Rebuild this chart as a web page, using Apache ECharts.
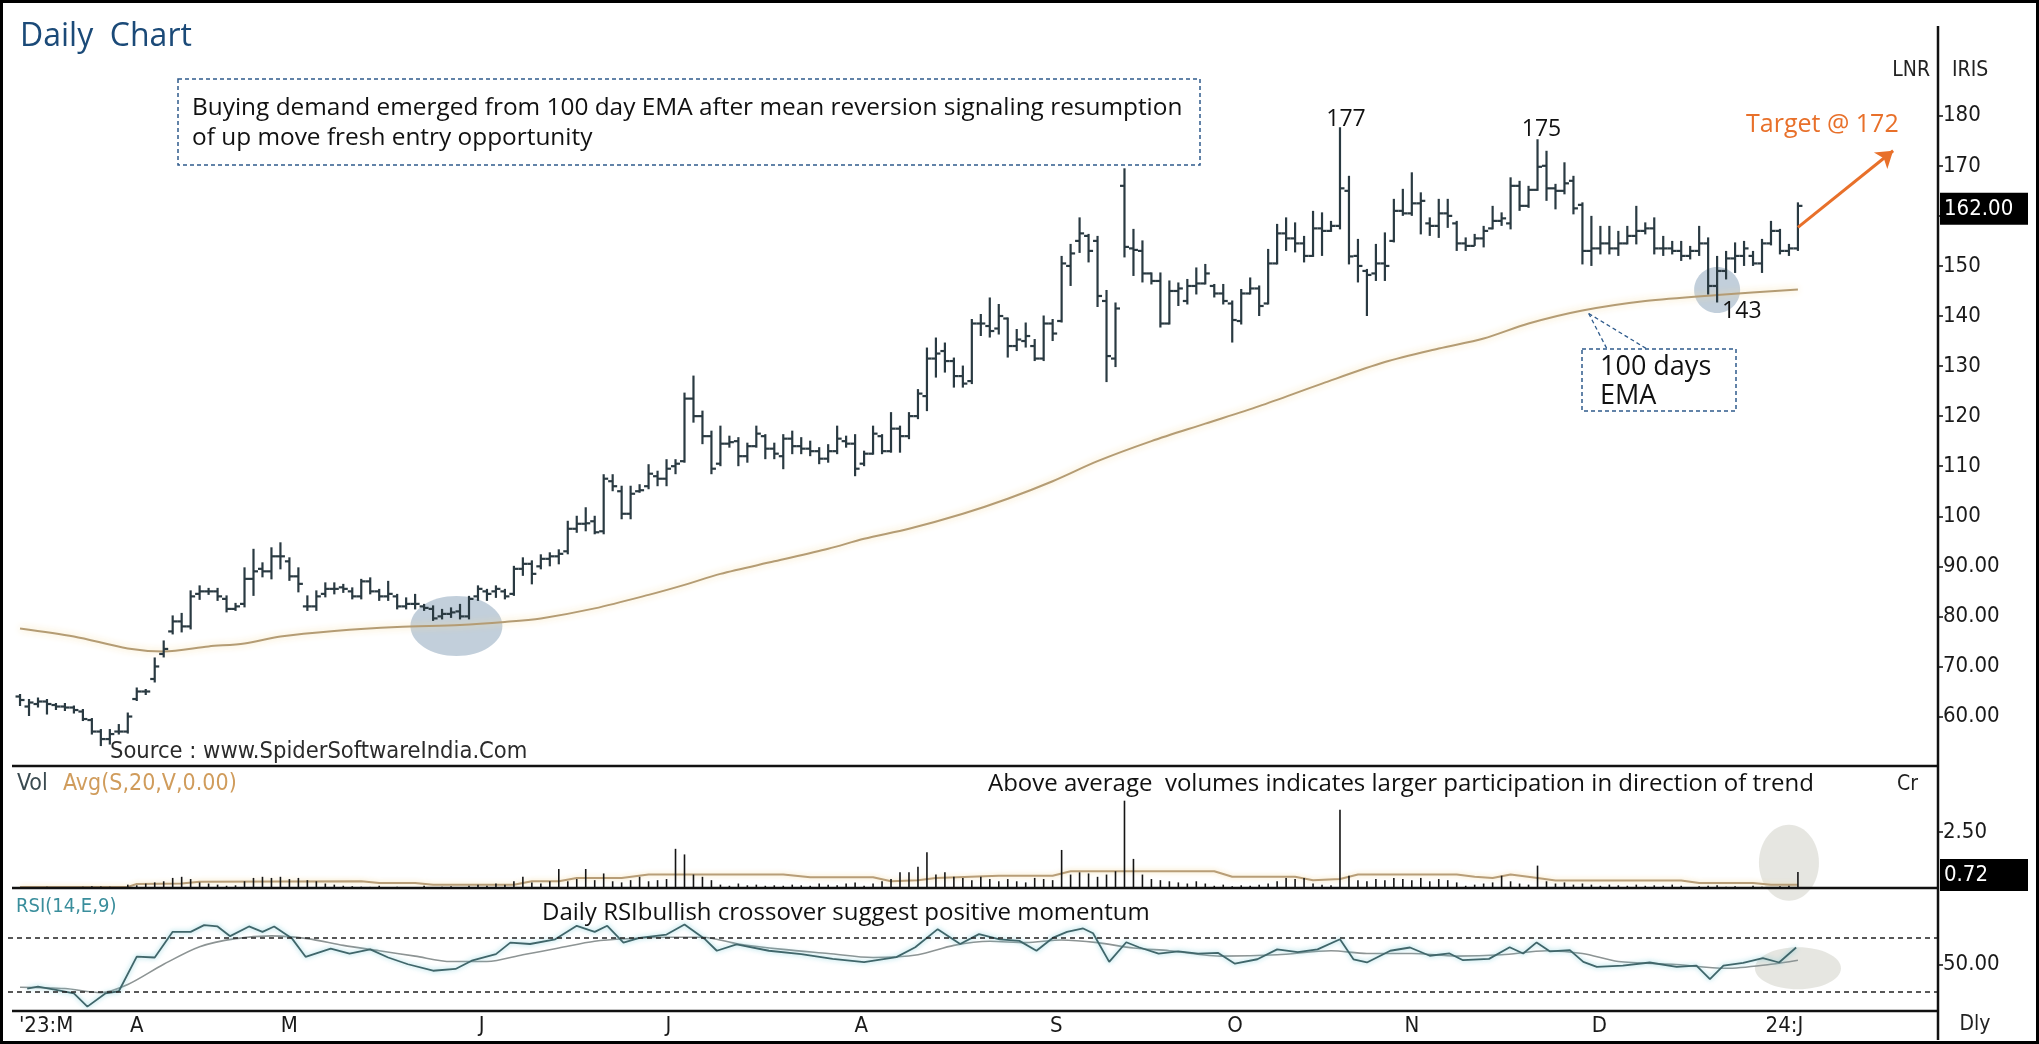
<!DOCTYPE html>
<html>
<head>
<meta charset="utf-8">
<title>Daily Chart</title>
<script src="https://cdn.jsdelivr.net/npm/echarts@6.0.0/dist/echarts.min.js"></script>
<style>
  html, body { margin: 0; padding: 0; background: #fff; }
  #chart { width: 2039px; height: 1044px; }
</style>
</head>
<body>
<div id="chart"></div>
<script>
// daily OHLC, 13 Mar 2023 .. 3 Jan 2024 (index = trading day)
const openP = [
  64, 62, 62.5, 63, 62.3, 62, 61.8, 61, 59.3, 57,
  55.5, 57, 57, 63.5, 65, 67.5, 72.5, 77, 79, 78,
  84.5, 85, 85, 83.5, 81.5, 82.5, 87.5, 89.5, 89, 92,
  91, 88, 82, 82, 84.5, 85.5, 85.8, 85, 84, 87,
  85, 84, 84, 82, 82.5, 82, 81.5, 80, 80.5, 81,
  80, 84, 85, 85, 85, 84.5, 89.5, 90.5, 90, 91.5,
  92, 93, 97.5, 98.5, 99, 97, 107, 105, 100.5, 105,
  106, 108, 107.5, 110, 111, 123.5, 120, 116, 110.5, 114.5,
  115, 112, 114, 116, 113.5, 112, 115.5, 114, 113.5, 113,
  111.5, 113, 115, 114.5, 110.5, 112.5, 116, 113, 117.5, 116,
  120, 124, 131.5, 133, 131, 128, 127, 138.5, 138, 137.5,
  139.5, 134, 135, 134, 131.5, 138.5, 139, 150, 155, 156,
  155, 143, 131.5, 166, 153.5, 153, 148.5, 147, 138.5, 145,
  143, 146, 146.5, 146, 144.5, 142.5, 139, 144.5, 145.5, 142.5,
  150.5, 156.5, 155.5, 154.5, 152, 157.5, 157, 158, 165, 152,
  149, 148.5, 150.5, 155, 161, 160.5, 162.5, 158.5, 158, 160.5,
  158.5, 154.5, 154, 155.5, 157.5, 159, 158.5, 166, 162, 165.2,
  170, 165.5, 165, 167, 162.2, 153, 153.5, 154.5, 153.5, 154.5,
  156, 157, 157.5, 153.5, 153.5, 153, 152, 153, 154.5, 146,
  149, 151.5, 152, 152, 150.5, 154.5, 157, 153, 153.5
]
const highP = [
  64.3, 63.3, 63.6, 63.3, 62.5, 62.5, 62, 61.3, 59.5, 57.3,
  57.3, 58.3, 60.6, 65.6, 65.3, 71.6, 75, 80, 80.5, 85,
  86, 85.5, 85.5, 84, 82.5, 89.6, 93.3, 90.6, 93.6, 94.6,
  91.6, 89.6, 84, 85, 86.6, 86.6, 86.3, 85.6, 87.3, 87.6,
  85.3, 86.9, 84.3, 83.6, 84.3, 82.3, 82, 81.3, 81.6, 82.3,
  83.9, 86, 85.3, 86, 85.3, 89.9, 91.6, 91, 92.2, 92.6,
  93.2, 98.9, 99.9, 101.6, 99.9, 108.2, 108.2, 105.9, 105.9, 106.2,
  110.2, 108.9, 111.2, 111.2, 124.5, 127.9, 120.9, 116.9, 117.9, 115.9,
  115.6, 114.5, 117.9, 116.2, 114.5, 116.2, 116.9, 115.6, 114.9, 113.6,
  114.2, 117.9, 115.9, 116.2, 112.9, 117.9, 116.2, 120.6, 117.9, 120.6,
  125.2, 133.5, 135.5, 134.5, 131.5, 129.9, 139.2, 140.2, 143.5, 142.2,
  139.5, 137.2, 138.5, 135.2, 139.9, 139.2, 151.8, 154.2, 159.5, 156.2,
  155.8, 145, 142.5, 169.3, 157.2, 154.9, 148.5, 148.5, 146.9, 146.5,
  147.2, 149.5, 150.2, 146.2, 146.2, 142.9, 145.2, 147.5, 145.9, 153.2,
  158.2, 159.5, 158.5, 155.8, 160.8, 160.5, 158.8, 177.5, 167.8, 155.2,
  149.2, 154.2, 156.5, 163.2, 165.2, 168.5, 164.5, 159.5, 163.2, 163.2,
  158.8, 155.5, 156.2, 157.8, 161.8, 160.5, 167.5, 166.8, 165.8, 175.1,
  172.8, 166.2, 170.5, 167.8, 162.5, 159.8, 157.8, 157.8, 156.8, 157.8,
  161.8, 158.5, 159.5, 155.8, 154.8, 154.8, 153.8, 157.8, 155.5, 151.8,
  152.8, 154.5, 154.8, 152.8, 155.2, 158.8, 157.2, 154.2, 162.5
]
const lowP = [
  62.3, 60.3, 62, 60.6, 61.5, 61.3, 60.8, 59.3, 56.6, 54.3,
  54.6, 56.6, 56.8, 63.3, 64.5, 67, 72, 76.6, 77, 77.6,
  83.5, 84.5, 83.3, 81, 81.3, 82, 84.3, 88, 87.6, 89.6,
  87.3, 85, 81.3, 81.3, 84, 84.6, 84.9, 83.6, 83.6, 84.6,
  83.3, 83.3, 81.6, 81.6, 81.6, 81.3, 79.3, 79.6, 79.9, 79.6,
  79.6, 83.3, 83.3, 83.9, 83.6, 84.3, 88.3, 86.6, 89.6, 90.2,
  90.6, 92.6, 96.9, 97.2, 96.6, 96.6, 105.2, 99.6, 99.6, 104.9,
  105.6, 106.2, 106.2, 108.6, 110.9, 118.9, 114.6, 108.6, 110.2, 113.9,
  110.2, 110.9, 113.9, 111.6, 111.6, 109.6, 112.6, 112.6, 112.2, 110.6,
  110.9, 112.6, 113.9, 108.2, 110.2, 112.5, 112.6, 112.9, 112.9, 115.6,
  119.6, 121.2, 127.9, 128.9, 125.9, 125.9, 126.6, 136.2, 135.9, 136.5,
  131.9, 133.2, 133.9, 131.2, 131.2, 135.2, 138.9, 146.2, 152.8, 150.9,
  142, 127, 130, 151.9, 148.2, 146.9, 146.5, 137.9, 138.5, 142.2,
  142.5, 144.5, 146.5, 143.9, 142.5, 134.9, 138.5, 144.5, 140.2, 142.5,
  150.5, 153.2, 152.9, 150.9, 152, 152.2, 157, 157.5, 150.5, 146.9,
  140.2, 147.2, 147.2, 154.9, 160.2, 160.2, 156.5, 156.2, 155.8, 157.8,
  153.2, 153.2, 154.2, 153.9, 157.5, 158.2, 157.5, 161.2, 161.8, 165.2,
  163.2, 161.5, 164.5, 160.5, 150.5, 150.2, 152.5, 152.5, 152.2, 154.5,
  154.5, 156.5, 152.5, 152.2, 152.5, 151.2, 151.5, 152.2, 144.5, 142.9,
  147.5, 148.8, 150.2, 150.2, 148.8, 154.3, 152.5, 152.2, 153.2
]
const closeP = [
  63.3, 62.8, 63, 62.5, 62, 61.8, 61.3, 59.5, 57, 55.5,
  56.5, 57, 60, 65, 65, 70, 73.5, 79, 78, 84,
  85, 85, 84, 81.5, 82, 87.5, 89, 89, 92, 92,
  88, 86.5, 82, 84, 85.5, 85.5, 85.5, 84, 87, 85,
  84, 84.5, 82, 82.5, 82.5, 81.7, 79.6, 80.5, 80.8, 80,
  83.5, 85.5, 84.5, 85.5, 84, 89.5, 90.5, 88.5, 91.5, 92,
  92.5, 97.5, 98.5, 98.6, 96.8, 107.5, 106, 100.5, 104.5, 105.2,
  108.5, 107.5, 109.5, 110.5, 123.5, 120, 116, 109.5, 114.5, 114.8,
  112, 114, 116.5, 113.5, 112.5, 115.5, 114, 113.5, 113, 111.5,
  113, 115.5, 114.5, 109.5, 112.5, 116.5, 113, 117.5, 116, 120,
  124.5, 131.5, 132.5, 131, 128, 126.5, 138.5, 138.5, 137, 140,
  134, 135.3, 136, 131.5, 138.5, 136.5, 150.5, 152.5, 156.5, 153,
  144, 132, 141.5, 153.8, 153.2, 148.5, 147, 138.5, 145, 145.5,
  146, 146.5, 148.5, 144.5, 143, 139.2, 144.5, 145.5, 142, 150.5,
  156.5, 155.5, 154.5, 152, 157.5, 157, 158, 165.5, 151.9, 150,
  148.2, 150.5, 150, 161, 160.5, 162.5, 163, 158, 160.5, 160,
  154.5, 154, 155.5, 157, 159, 159.5, 166, 162, 165.2, 169.8,
  165.5, 165, 166.5, 161.5, 153, 153.5, 154.5, 153.5, 154.5, 156,
  157, 157.5, 153.5, 153.5, 153, 152, 153, 154.5, 146, 149,
  151.5, 152, 153.5, 150.5, 154.5, 157, 153, 153.5, 162
]
// volume in Cr
const volume = [
  0.05, 0.04, 0.05, 0.06, 0.04, 0.05, 0.05, 0.06, 0.08, 0.07,
  0.06, 0.05, 0.15, 0.12, 0.2, 0.25, 0.3, 0.45, 0.5, 0.4,
  0.25, 0.2, 0.15, 0.1, 0.12, 0.3, 0.45, 0.5, 0.45, 0.5,
  0.4, 0.45, 0.35, 0.3, 0.2, 0.15, 0.1, 0.08, 0.06, 0.05,
  0.1, 0.04, 0.06, 0.05, 0.04, 0.1, 0.05, 0.06, 0.08, 0.05,
  0.1, 0.15, 0.1, 0.2, 0.15, 0.3, 0.5, 0.25, 0.2, 0.3,
  0.85, 0.3, 0.4, 0.85, 0.35, 0.65, 0.3, 0.25, 0.35, 0.5,
  0.3, 0.35, 0.4, 1.75, 1.5, 0.6, 0.5, 0.35, 0.15, 0.1,
  0.2, 0.12, 0.15, 0.1, 0.12, 0.1, 0.15, 0.12, 0.1, 0.2,
  0.15, 0.12, 0.2, 0.25, 0.1, 0.2, 0.3, 0.4, 0.7, 0.7,
  0.95, 1.6, 0.6, 0.7, 0.5, 0.45, 0.35, 0.5, 0.4, 0.3,
  0.4, 0.3, 0.25, 0.45, 0.4, 0.35, 1.7, 0.6, 0.7, 0.65,
  0.5, 0.6, 0.75, 3.9, 1.3, 0.6, 0.4, 0.35, 0.3, 0.25,
  0.2, 0.3, 0.2, 0.1, 0.15, 0.08, 0.12, 0.1, 0.15, 0.2,
  0.3, 0.45, 0.4, 0.45, 0.2, 0.15, 0.12, 3.5, 0.55, 0.35,
  0.3, 0.4, 0.35, 0.45, 0.4, 0.35, 0.45, 0.3, 0.4, 0.35,
  0.25, 0.1, 0.15, 0.2, 0.25, 0.55, 0.3, 0.2, 0.15, 1.0,
  0.3, 0.2, 0.25, 0.15, 0.2, 0.15, 0.1, 0.15, 0.12, 0.1,
  0.15, 0.1, 0.12, 0.1, 0.15, 0.1, 0.05, 0.08, 0.1, 0.12,
  0.06, 0.08, 0.05, 0.1, 0.06, 0.05, 0.08, 0.1, 0.72
]
// [day index, value]
const ema100 = [
  [0, 77.6], [6, 76.0], [12, 73.6], [16, 73.0], [21, 74.0], [25, 74.6], [29, 76.0],
  [35, 77.1], [42, 77.9], [49, 78.3], [54, 78.9], [58, 79.6], [64, 81.6], [70, 84.3],
  [74, 86.3], [78, 88.5], [84, 91.0], [90, 93.5], [94, 95.5], [99, 97.5], [105, 100.5],
  [110, 103.5], [115, 107.0], [120, 111.0], [126, 115.0], [132, 118.5], [138, 122.0],
  [145, 126.5], [152, 130.8], [158, 133.5], [163, 135.5], [168, 138.5], [174, 141.1],
  [181, 143.0], [189, 144.2], [198, 145.3]
]
const volAvg = [
  [0, 0.05], [12, 0.05], [13, 0.18], [18, 0.2], [20, 0.28], [38, 0.3], [40, 0.22],
  [44, 0.22], [46, 0.15], [55, 0.15], [57, 0.3], [60, 0.3], [62, 0.45], [67, 0.45],
  [70, 0.6], [85, 0.6], [88, 0.48], [95, 0.48], [97, 0.3], [100, 0.35], [102, 0.45],
  [109, 0.55], [115, 0.55], [117, 0.75], [133, 0.75], [135, 0.5], [142, 0.5], [144, 0.35],
  [147, 0.4], [149, 0.6], [160, 0.6], [162, 0.5], [164, 0.45], [166, 0.6], [169, 0.45],
  [171, 0.33], [185, 0.33], [187, 0.22], [193, 0.22], [195, 0.15], [198, 0.15]
]
const rsi = [
  [0.8, 32], [2, 33.4], [4, 31], [6, 28.4], [7.5, 18.6], [9.5, 28.4], [11, 30], [13, 55.6],
  [15, 55], [17, 74], [19, 74], [20.5, 79], [22, 78], [23.4, 70.8], [25.5, 78], [27, 74],
  [28.3, 78], [30.3, 69], [31.8, 55.5], [34.6, 61.5], [36.7, 57.8], [39, 61], [41, 55],
  [43.2, 50], [46, 45.2], [48.5, 46.5], [50.3, 52.6], [53, 57.5], [54.6, 66], [56.8, 65],
  [59.6, 68.5], [62, 78.5], [64, 74], [65.4, 78.5], [67.2, 66], [69, 69.5], [72, 72],
  [74, 79.5], [76.3, 68.5], [77.6, 60], [79.8, 64.8], [83.4, 60], [87, 57.5], [90.5, 54],
  [94, 51.5], [97.6, 55.3], [99.7, 62.6], [102.2, 76], [104.7, 65], [106.8, 72.3],
  [109.1, 68.5], [111.3, 67.3], [113.2, 60], [115, 69.5], [116.6, 74], [118.4, 76.5],
  [119.5, 73], [121.3, 51.8], [123.2, 66.3], [124.6, 62.6], [126.8, 57.8], [129, 59.5],
  [131.2, 57.8], [133.4, 58.5], [135.3, 50.4], [137.8, 53.7], [140, 61], [142.3, 59],
  [144.5, 61], [147, 68.5], [148.5, 53.7], [150, 51.3], [152.6, 60], [154.8, 62.4],
  [157, 56.3], [159.2, 58], [160.7, 53], [163.6, 54], [165.9, 62.6], [167.4, 58],
  [168.9, 66.2], [170.4, 59.5], [172.6, 60.5], [174.1, 51.8], [175.6, 48.1], [178.5, 49],
  [181.5, 51.3], [184.5, 48.1], [186.7, 49], [188.2, 39], [189.7, 49], [191.9, 51],
  [194.1, 54.5], [195.9, 51.3], [197.8, 62.4]
]
const rsiSignal = [
  [0, 33], [5, 32], [9, 29], [12, 35], [16, 50], [20, 63], [24, 69], [28, 71], [32, 69],
  [36, 64], [40, 60], [44, 56], [48, 52], [52, 52], [56, 57], [60, 62], [64, 67], [68, 69],
  [72, 70], [76, 70], [80, 65], [85, 61], [90, 58], [95, 55], [100, 57], [104, 64],
  [108, 67], [112, 66], [116, 68], [120, 66], [124, 62], [128, 60], [134, 56], [140, 57],
  [146, 60], [150, 58], [155, 58], [160, 56], [165, 57], [170, 60], [174, 58], [178, 52],
  [184, 50], [190, 47], [195, 50], [198, 53]
]
const priceTicks = [60, 70, 80, 90, 100, 110, 120, 130, 140, 150, 160, 170, 180]
const monthPos = [2.9, 13, 30, 51.4, 72.2, 93.7, 115.4, 135.3, 155, 175.9, 196.5]
const monthLabel = ["'23:M", 'A', 'M', 'J', 'J', 'A', 'S', 'O', 'N', 'D', '24:J']

const CF = "'DejaVu Sans Condensed', 'Liberation Sans Narrow', 'DejaVu Sans', sans-serif"
const AF = "'Open Sans', 'Noto Sans', sans-serif"
const barColor = '#2a3a42'
const orange = '#e8702a'
const xMin = -1.34
const xMax = 213.6

const chart = echarts.init(document.getElementById('chart'))

const ohlc = openP.map((o, i) => [i, o, highP[i], lowP[i], closeP[i]])
const vol = volume.map((v, i) => [i, v])

const renderOhlc = (params, api) => {
  const x = api.value(0)
  const o = api.coord([x, api.value(1)])
  const h = api.coord([x, api.value(2)])
  const l = api.coord([x, api.value(3)])
  const c = api.coord([x, api.value(4)])
  const style = { stroke: barColor, lineWidth: 2.2 }
  return {
    type: 'group',
    children: [
      { type: 'line', shape: { x1: h[0], y1: h[1] - 1, x2: l[0], y2: l[1] + 1 }, style },
      { type: 'line', shape: { x1: o[0] - 4.5, y1: o[1], x2: o[0], y2: o[1] }, style },
      { type: 'line', shape: { x1: c[0], y1: c[1], x2: c[0] + 4.5, y2: c[1] }, style }
    ]
  }
}

const renderVol = (params, api) => {
  const x = api.value(0)
  const top = api.coord([x, api.value(1)])
  const base = api.coord([x, 0])
  return {
    type: 'line',
    shape: { x1: top[0], y1: top[1], x2: base[0], y2: base[1] },
    style: { stroke: '#151515', lineWidth: 1.6 }
  }
}

const xAxisBase = (gridIndex) => ({
  type: 'value', gridIndex, min: xMin, max: xMax,
  axisLine: { show: false, onZero: false }, axisTick: { show: false }, splitLine: { show: false },
  axisLabel: { show: false }
})

const yAxisBase = (gridIndex, min, max, ticks, fmt) => ({
  type: 'value', gridIndex, min, max, position: 'right',
  splitLine: { show: false },
  axisLine: { show: false, onZero: false },
  axisTick: { show: true, length: 5, customValues: ticks, lineStyle: { color: '#111', width: 1.5 } },
  axisLabel: {
    customValues: ticks, formatter: fmt, margin: 5,
    color: '#1a1a1a', fontFamily: CF, fontSize: 22
  }
})

const option = {
  animation: false,
  backgroundColor: '#fff',
  grid: [
    { left: 8, width: 1930, top: 15.6, height: 751 },
    { left: 8, width: 1930, top: 766, height: 122 },
    { left: 8, width: 1930, top: 890, height: 121.5 }
  ],
  xAxis: [
    xAxisBase(0),
    xAxisBase(1),
    {
      ...xAxisBase(2),
      axisLabel: {
        show: true, customValues: monthPos,
        formatter: (v) => monthLabel[monthPos.indexOf(v)] ?? '',
        margin: 4, color: '#1a1a1a', fontFamily: CF, fontSize: 22
      }
    }
  ],
  yAxis: [
    yAxisBase(0, 50, 200, priceTicks, (v) => (v >= 100 ? String(v) : v.toFixed(2))),
    yAxisBase(1, 0, 5.45, [2.5], () => '2.50'),
    yAxisBase(2, 15, 105, [50], () => '50.00')
  ],
  series: [
    {
      name: 'EMA 100', type: 'line', xAxisIndex: 0, yAxisIndex: 0,
      data: ema100, smooth: 0.3, showSymbol: false, silent: true, z: 1,
      lineStyle: { color: '#b49c74', width: 2, shadowColor: 'rgba(245,220,160,0.95)', shadowBlur: 7 },
      markLine: {
        silent: true, symbol: ['none', 'none'], label: { show: false },
        lineStyle: { color: orange, width: 3, type: 'solid' },
        data: [
          [{ coord: [202.4, 175.2] }, { coord: [213.9, 175.2] }],
          [{ coord: [198, 157.7] }, { coord: [208.6, 173], symbol: 'arrow', symbolSize: 16 }]
        ]
      }
    },
    {
      name: 'IRIS', type: 'custom', xAxisIndex: 0, yAxisIndex: 0,
      renderItem: renderOhlc, data: ohlc, encode: { x: 0, y: [1, 2, 3, 4] }, z: 3
    },
    {
      name: 'Vol', type: 'custom', xAxisIndex: 1, yAxisIndex: 1,
      renderItem: renderVol, data: vol, encode: { x: 0, y: 1 }, z: 3
    },
    {
      name: 'Avg', type: 'line', xAxisIndex: 1, yAxisIndex: 1,
      data: volAvg, showSymbol: false, silent: true, z: 2,
      lineStyle: { color: '#b89e78', width: 2, shadowColor: 'rgba(245,220,165,0.9)', shadowBlur: 5 }
    },
    {
      name: 'Signal', type: 'line', xAxisIndex: 2, yAxisIndex: 2,
      data: rsiSignal, smooth: 0.3, showSymbol: false, silent: true, z: 2,
      lineStyle: { color: '#8d9494', width: 1.6 }
    },
    {
      name: 'RSI', type: 'line', xAxisIndex: 2, yAxisIndex: 2,
      data: rsi, showSymbol: false, silent: true, z: 3,
      lineStyle: { color: '#40666a', width: 1.8, shadowColor: 'rgba(110,200,215,0.8)', shadowBlur: 5 },
      markLine: {
        silent: true, symbol: ['none', 'none'], label: { show: false },
        lineStyle: { color: '#222', width: 1.6, type: [5, 4] },
        data: [{ yAxis: 70 }, { yAxis: 30 }]
      }
    }
  ]
}

chart.setOption(option)

const px = (g, p) => chart.convertToPixel({ gridIndex: g }, p)

const txt = (x, y, text, size, color, family, align = 'left', vAlign = 'middle') => ({
  type: 'text', x, y, z: 100,
  style: {
    text, fill: color, fontSize: size, fontFamily: family,
    align, verticalAlign: vAlign, textAlign: align, textVerticalAlign: vAlign
  }
})
const hline = (x1, x2, y, w = 2.5) => ({
  type: 'line', z: 90, shape: { x1, y1: y, x2, y2: y }, style: { stroke: '#111', lineWidth: w }
})
const ellipse = (c, rx, ry, fill) => ({
  type: 'ellipse', z: 1, shape: { cx: c[0], cy: c[1], rx, ry }, style: { fill }
})
const valueBox = (y, text) => [
  { type: 'rect', z: 95, shape: { x: 1940, y: y - 16, width: 88, height: 32 }, style: { fill: '#000' } },
  txt(1944, y, text, 22, '#fff', CF)
]

const peak177 = px(0, [147, 177.5])
const peak175 = px(0, [169, 175.1])
const low143 = px(0, [189, 142.9])
const emaPoint = px(0, [174.7, 140.5])
const lastPx = px(0, [198, 162])
const lastVol = px(1, [198, 0.72])

const graphics = [
  { type: 'rect', z: 99, shape: { x: 1.5, y: 1.5, width: 2036, height: 1041 }, style: { fill: 'none', stroke: '#000', lineWidth: 3 } },
  { type: 'line', z: 90, shape: { x1: 1938, y1: 26, x2: 1938, y2: 1040 }, style: { stroke: '#111', lineWidth: 2.5 } },
  hline(12, 1938, 766), hline(12, 1938, 888), hline(12, 1938, 1011),

  ellipse(px(0, [48.6, 78.1]), 46, 30, 'rgba(110,140,170,0.42)'),
  ellipse(px(0, [189, 145.2]), 23, 23, 'rgba(110,140,170,0.42)'),
  ellipse(px(1, [197, 1.13]), 30, 38, 'rgba(205,205,195,0.5)'),
  ellipse(px(2, [198, 47]), 43, 21, 'rgba(205,205,195,0.5)'),

  txt(20, 37, 'Daily  Chart', 32, '#1b4a78', AF),
  {
    type: 'rect', z: 80, shape: { x: 178, y: 79, width: 1022, height: 86 },
    style: { fill: '#fff', stroke: '#2f5b8c', lineWidth: 1.5, lineDash: [4, 3] }
  },
  txt(192, 108, 'Buying demand emerged from 100 day EMA after mean reversion signaling resumption', 24.4, '#111', AF),
  txt(192, 138, 'of up move fresh entry opportunity', 24.4, '#111', AF),

  txt(peak177[0] + 6, peak177[1] + 3, '177', 23, '#111', AF, 'center', 'bottom'),
  txt(peak175[0] + 4, peak175[1] + 1, '175', 23, '#111', AF, 'center', 'bottom'),
  txt(low143[0] + 5, low143[1] - 2, '143', 23, '#111', AF, 'left', 'top'),
  txt(1746, 125, 'Target @ 172', 25, orange, AF),

  { type: 'line', z: 80, shape: { x1: emaPoint[0], y1: emaPoint[1], x2: 1607, y2: 349 }, style: { stroke: '#2f5b8c', lineWidth: 1.3, lineDash: [4, 3] } },
  { type: 'line', z: 80, shape: { x1: emaPoint[0], y1: emaPoint[1], x2: 1647, y2: 349 }, style: { stroke: '#2f5b8c', lineWidth: 1.3, lineDash: [4, 3] } },
  {
    type: 'rect', z: 80, shape: { x: 1582, y: 349, width: 154, height: 62 },
    style: { fill: '#fff', stroke: '#2f5b8c', lineWidth: 1.5, lineDash: [4, 3] }
  },
  txt(1600, 367, '100 days', 27, '#111', AF),
  txt(1600, 396, 'EMA', 27, '#111', AF),

  txt(110, 752, 'Source : www.SpiderSoftwareIndia.Com', 23.5, '#2b2b2b', CF),
  txt(17, 784, 'Vol', 23, '#3a4a50', CF),
  txt(63, 784, 'Avg(S,20,V,0.00)', 23, '#d09c5c', CF),
  txt(988, 784, 'Above average  volumes indicates larger participation in direction of trend', 24, '#111', AF),
  txt(16, 907, 'RSI(14,E,9)', 20, '#3a8e9c', CF),
  txt(542, 913, 'Daily RSIbullish crossover suggest positive momentum', 24, '#111', AF),

  txt(1930, 71, 'LNR', 21, '#222', CF, 'right'),
  txt(1952, 71, 'IRIS', 21, '#222', CF),
  txt(1918, 785, 'Cr', 21, '#222', CF, 'right'),
  txt(1975, 1025, 'Dly', 21, '#222', CF, 'center'),

  ...valueBox(lastPx[1] + 3, '162.00'),
  ...valueBox(lastVol[1] + 3, '0.72')
]

chart.setOption({ graphic: graphics })

window.addEventListener('resize', () => {
  chart.resize()
})
</script>
</body>
</html>
